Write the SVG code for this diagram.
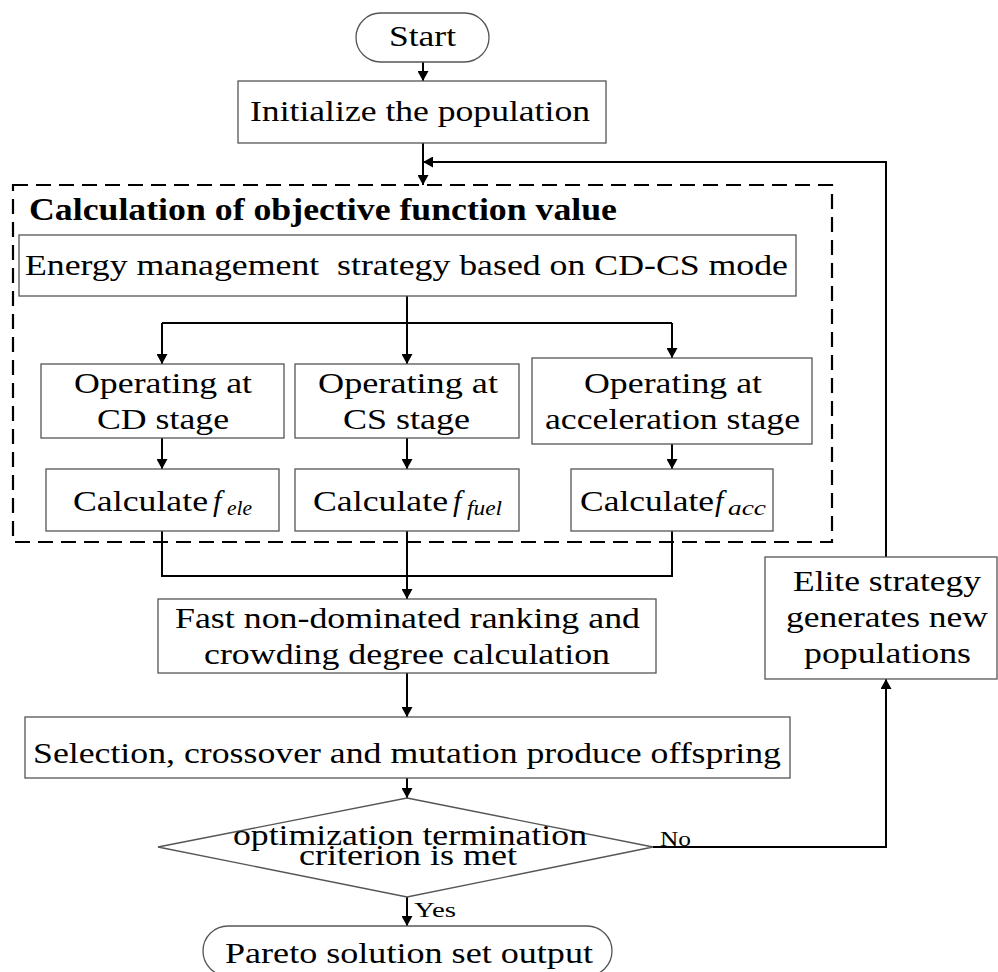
<svg xmlns="http://www.w3.org/2000/svg" width="998" height="972" viewBox="0 0 998 972">
<style>
.t{font-family:"Liberation Serif","Times New Roman",serif;font-size:30px;fill:#000}
.s{font-size:22px}
.i{font-style:italic}
.sub{font-style:italic;font-size:21px}
.bd{font-weight:bold;font-size:31px}
.b{fill:#fff;stroke:#555;stroke-width:1.3}
.c{fill:none;stroke:#000;stroke-width:2}
.d{fill:none;stroke:#000;stroke-width:2.2;stroke-dasharray:15 8}
</style>
<defs>
<marker id="ah" markerUnits="userSpaceOnUse" markerWidth="11" markerHeight="11" refX="10" refY="5.5" orient="auto">
<path d="M0,0 L10,5.5 L0,11 z" fill="#000"/>
</marker>
</defs>
<rect width="998" height="972" fill="#fff"/>

<g id="group-objective">
<rect class="d" x="13" y="185" width="819" height="357"/>
<text class="t bd" x="29" y="220" textLength="588" lengthAdjust="spacingAndGlyphs">Calculation of objective function value</text>
</g>

<g id="connectors">
<line class="c" x1="423" y1="62" x2="423" y2="81" marker-end="url(#ah)"/>
<line class="c" x1="423" y1="143" x2="423" y2="185" marker-end="url(#ah)"/>
<polyline class="c" points="886,557 886,162 423,162" marker-end="url(#ah)"/>
<line class="c" x1="407" y1="296" x2="407" y2="323"/>
<line class="c" x1="162" y1="323" x2="672" y2="323"/>
<line class="c" x1="162" y1="323" x2="162" y2="364" marker-end="url(#ah)"/>
<line class="c" x1="407" y1="323" x2="407" y2="364" marker-end="url(#ah)"/>
<line class="c" x1="672" y1="323" x2="672" y2="358" marker-end="url(#ah)"/>
<line class="c" x1="162" y1="438" x2="162" y2="469" marker-end="url(#ah)"/>
<line class="c" x1="407" y1="438" x2="407" y2="469" marker-end="url(#ah)"/>
<line class="c" x1="672" y1="444" x2="672" y2="469" marker-end="url(#ah)"/>
<polyline class="c" points="162,531 162,576 672,576 672,531"/>
<line class="c" x1="407" y1="531" x2="407" y2="576"/>
<line class="c" x1="407" y1="576" x2="407" y2="599" marker-end="url(#ah)"/>
<line class="c" x1="407" y1="673" x2="407" y2="717" marker-end="url(#ah)"/>
<line class="c" x1="407" y1="778" x2="407" y2="798" marker-end="url(#ah)"/>
<line class="c" x1="407" y1="897" x2="407" y2="926" marker-end="url(#ah)"/>
<polyline class="c" points="653,847 886,847 886,679" marker-end="url(#ah)"/>
<text class="t s" x="660" y="846" textLength="31" lengthAdjust="spacingAndGlyphs">No</text>
<text class="t s" x="414" y="917" textLength="42" lengthAdjust="spacingAndGlyphs">Yes</text>
</g>

<g id="start">
<rect class="b" x="356" y="13" width="133" height="49" rx="24.5"/>
<text class="t" x="389" y="46" textLength="67" lengthAdjust="spacingAndGlyphs">Start</text>
</g>

<g id="init">
<rect class="b" x="238" y="81" width="368" height="62"/>
<text class="t" x="250" y="121" textLength="340" lengthAdjust="spacingAndGlyphs">Initialize the population</text>
</g>

<g id="energy">
<rect class="b" x="19" y="235" width="777" height="61"/>
<text class="t" x="25" y="275" textLength="763" lengthAdjust="spacingAndGlyphs" xml:space="preserve">Energy management  strategy based on CD-CS mode</text>
</g>

<g id="cd">
<rect class="b" x="41" y="364" width="243" height="74"/>
<text class="t" x="74" y="393" textLength="178" lengthAdjust="spacingAndGlyphs">Operating at</text>
<text class="t" x="97" y="429" textLength="132" lengthAdjust="spacingAndGlyphs">CD stage</text>
</g>

<g id="cs">
<rect class="b" x="295" y="364" width="224" height="74"/>
<text class="t" x="318" y="393" textLength="180" lengthAdjust="spacingAndGlyphs">Operating at</text>
<text class="t" x="343" y="429" textLength="127" lengthAdjust="spacingAndGlyphs">CS stage</text>
</g>

<g id="acc">
<rect class="b" x="532" y="358" width="280" height="86"/>
<text class="t" x="584" y="393" textLength="178" lengthAdjust="spacingAndGlyphs">Operating at</text>
<text class="t" x="545" y="429" textLength="255" lengthAdjust="spacingAndGlyphs">acceleration stage</text>
</g>

<g id="calc-ele">
<rect class="b" x="46" y="469" width="233" height="62"/>
<text class="t" x="73" y="511" textLength="135" lengthAdjust="spacingAndGlyphs">Calculate</text>
<text class="t i" x="213" y="511">f</text>
<text class="t sub" x="227" y="515" textLength="25" lengthAdjust="spacingAndGlyphs">ele</text>
</g>

<g id="calc-fuel">
<rect class="b" x="295" y="469" width="224" height="62"/>
<text class="t" x="313" y="511" textLength="135" lengthAdjust="spacingAndGlyphs">Calculate</text>
<text class="t i" x="453" y="511">f</text>
<text class="t sub" x="467" y="515" textLength="35" lengthAdjust="spacingAndGlyphs">fuel</text>
</g>

<g id="calc-acc">
<rect class="b" x="571" y="469" width="202" height="62"/>
<text class="t" x="580" y="511" textLength="134" lengthAdjust="spacingAndGlyphs">Calculate</text>
<text class="t i" x="715" y="511">f</text>
<text class="t sub" x="728" y="515" textLength="38" lengthAdjust="spacingAndGlyphs">acc</text>
</g>

<g id="fast">
<rect class="b" x="158" y="599" width="498" height="74"/>
<text class="t" x="175" y="628" textLength="465" lengthAdjust="spacingAndGlyphs">Fast non-dominated ranking and</text>
<text class="t" x="204" y="664" textLength="406" lengthAdjust="spacingAndGlyphs">crowding degree calculation</text>
</g>

<g id="selection">
<rect class="b" x="25" y="717" width="765" height="61"/>
<text class="t" x="33" y="763" textLength="748" lengthAdjust="spacingAndGlyphs">Selection, crossover and mutation produce offspring</text>
</g>

<g id="elite">
<rect class="b" x="765" y="557" width="232" height="122"/>
<text class="t" x="793" y="591" textLength="188" lengthAdjust="spacingAndGlyphs">Elite strategy</text>
<text class="t" x="786" y="627" textLength="202" lengthAdjust="spacingAndGlyphs">generates new</text>
<text class="t" x="804" y="663" textLength="167" lengthAdjust="spacingAndGlyphs">populations</text>
</g>

<g id="decision">
<polygon class="b" points="407,798 653,847 407,897 158,847"/>
<text class="t" x="233" y="845" textLength="354" lengthAdjust="spacingAndGlyphs">optimization termination</text>
<text class="t" x="299" y="865" textLength="218" lengthAdjust="spacingAndGlyphs">criterion is met</text>
</g>

<g id="pareto">
<rect class="b" x="203" y="926" width="409" height="50" rx="25"/>
<text class="t" x="225" y="963" textLength="368" lengthAdjust="spacingAndGlyphs">Pareto solution set output</text>
</g>
</svg>
